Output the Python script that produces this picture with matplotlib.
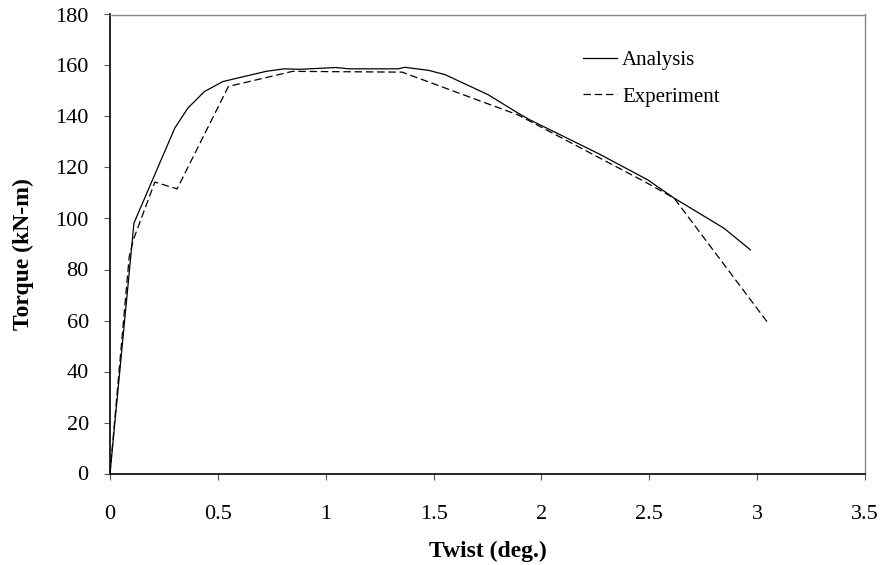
import matplotlib
matplotlib.use("Agg")
import matplotlib.pyplot as plt

# Analysis series
ana_x = [0.0, 0.111, 0.300, 0.361, 0.438, 0.523, 0.723, 0.808, 0.877, 1.046, 1.108, 1.338, 1.366,
         1.477, 1.554, 1.754, 1.892, 1.946, 2.261, 2.492, 2.615, 2.846, 2.969]
ana_y = [0.0, 98.2, 135.4, 143.3, 149.8, 153.7, 157.7, 158.7, 158.5, 159.2, 158.7, 158.7, 159.3,
         158.1, 156.4, 148.5, 141.3, 138.7, 125.6, 115.2, 108.0, 96.2, 87.7]

# Experiment series
exp_x = [0.0, 0.089, 0.108, 0.208, 0.311, 0.549, 0.846, 1.354, 1.892, 2.477, 2.615, 3.046]
exp_y = [0.0, 85.0, 91.6, 114.3, 111.6, 151.8, 157.7, 157.4, 140.6, 114.5, 108.0, 59.5]

x_ticks = [0, 0.5, 1, 1.5, 2, 2.5, 3, 3.5]
x_ticklabels = ["0", "0.5", "1", "1.5", "2", "2.5", "3", "3.5"]
y_ticks = [0, 20, 40, 60, 80, 100, 120, 140, 160, 180]

plt.rcParams['font.family'] = ['Liberation Serif', 'DejaVu Serif']

fig = plt.figure(figsize=(8.86, 5.65), dpi=100)
ax = fig.add_axes([110/886, 1 - 473.5/565, (865-110)/886, (473.5-14.5)/565])

ax.plot(ana_x, ana_y, color='black', lw=0.9, label='Analysis')
ax.plot(exp_x, exp_y, color='black', lw=0.9, dashes=(6, 3), label='Experiment')

ax.set_xlim(0, 3.5)
ax.set_ylim(0, 180)
ax.set_xticks(x_ticks)
ax.set_xticklabels(x_ticklabels)
ax.set_yticks(y_ticks)
ax.tick_params(direction='out', length=4.3, width=0.8, color='#555555', labelsize=16)
ax.tick_params(axis='y', pad=11)
ax.tick_params(axis='x', pad=18.5)

for s in ['left', 'bottom']:
    ax.spines[s].set_color('black')
    ax.spines[s].set_linewidth(1.2)
for s in ['top', 'right']:
    ax.spines[s].set_color('#888888')
    ax.spines[s].set_linewidth(1.0)

ax.set_xlabel('Twist (deg.)', fontsize=17, fontweight='bold')
ax.set_ylabel('Torque (kN-m)', fontsize=17, fontweight='bold')
ax.xaxis.set_label_coords(0.5, -0.147)
ax.yaxis.set_label_coords(-0.1007, 0.477)

leg = ax.legend(loc='upper left', bbox_to_anchor=(0.6265, 0.922), frameon=False, fontsize=15,
                handlelength=1.63, handletextpad=0.24, labelspacing=0.82,
                borderpad=0, borderaxespad=0)

fig.savefig('out.png', dpi=100)
